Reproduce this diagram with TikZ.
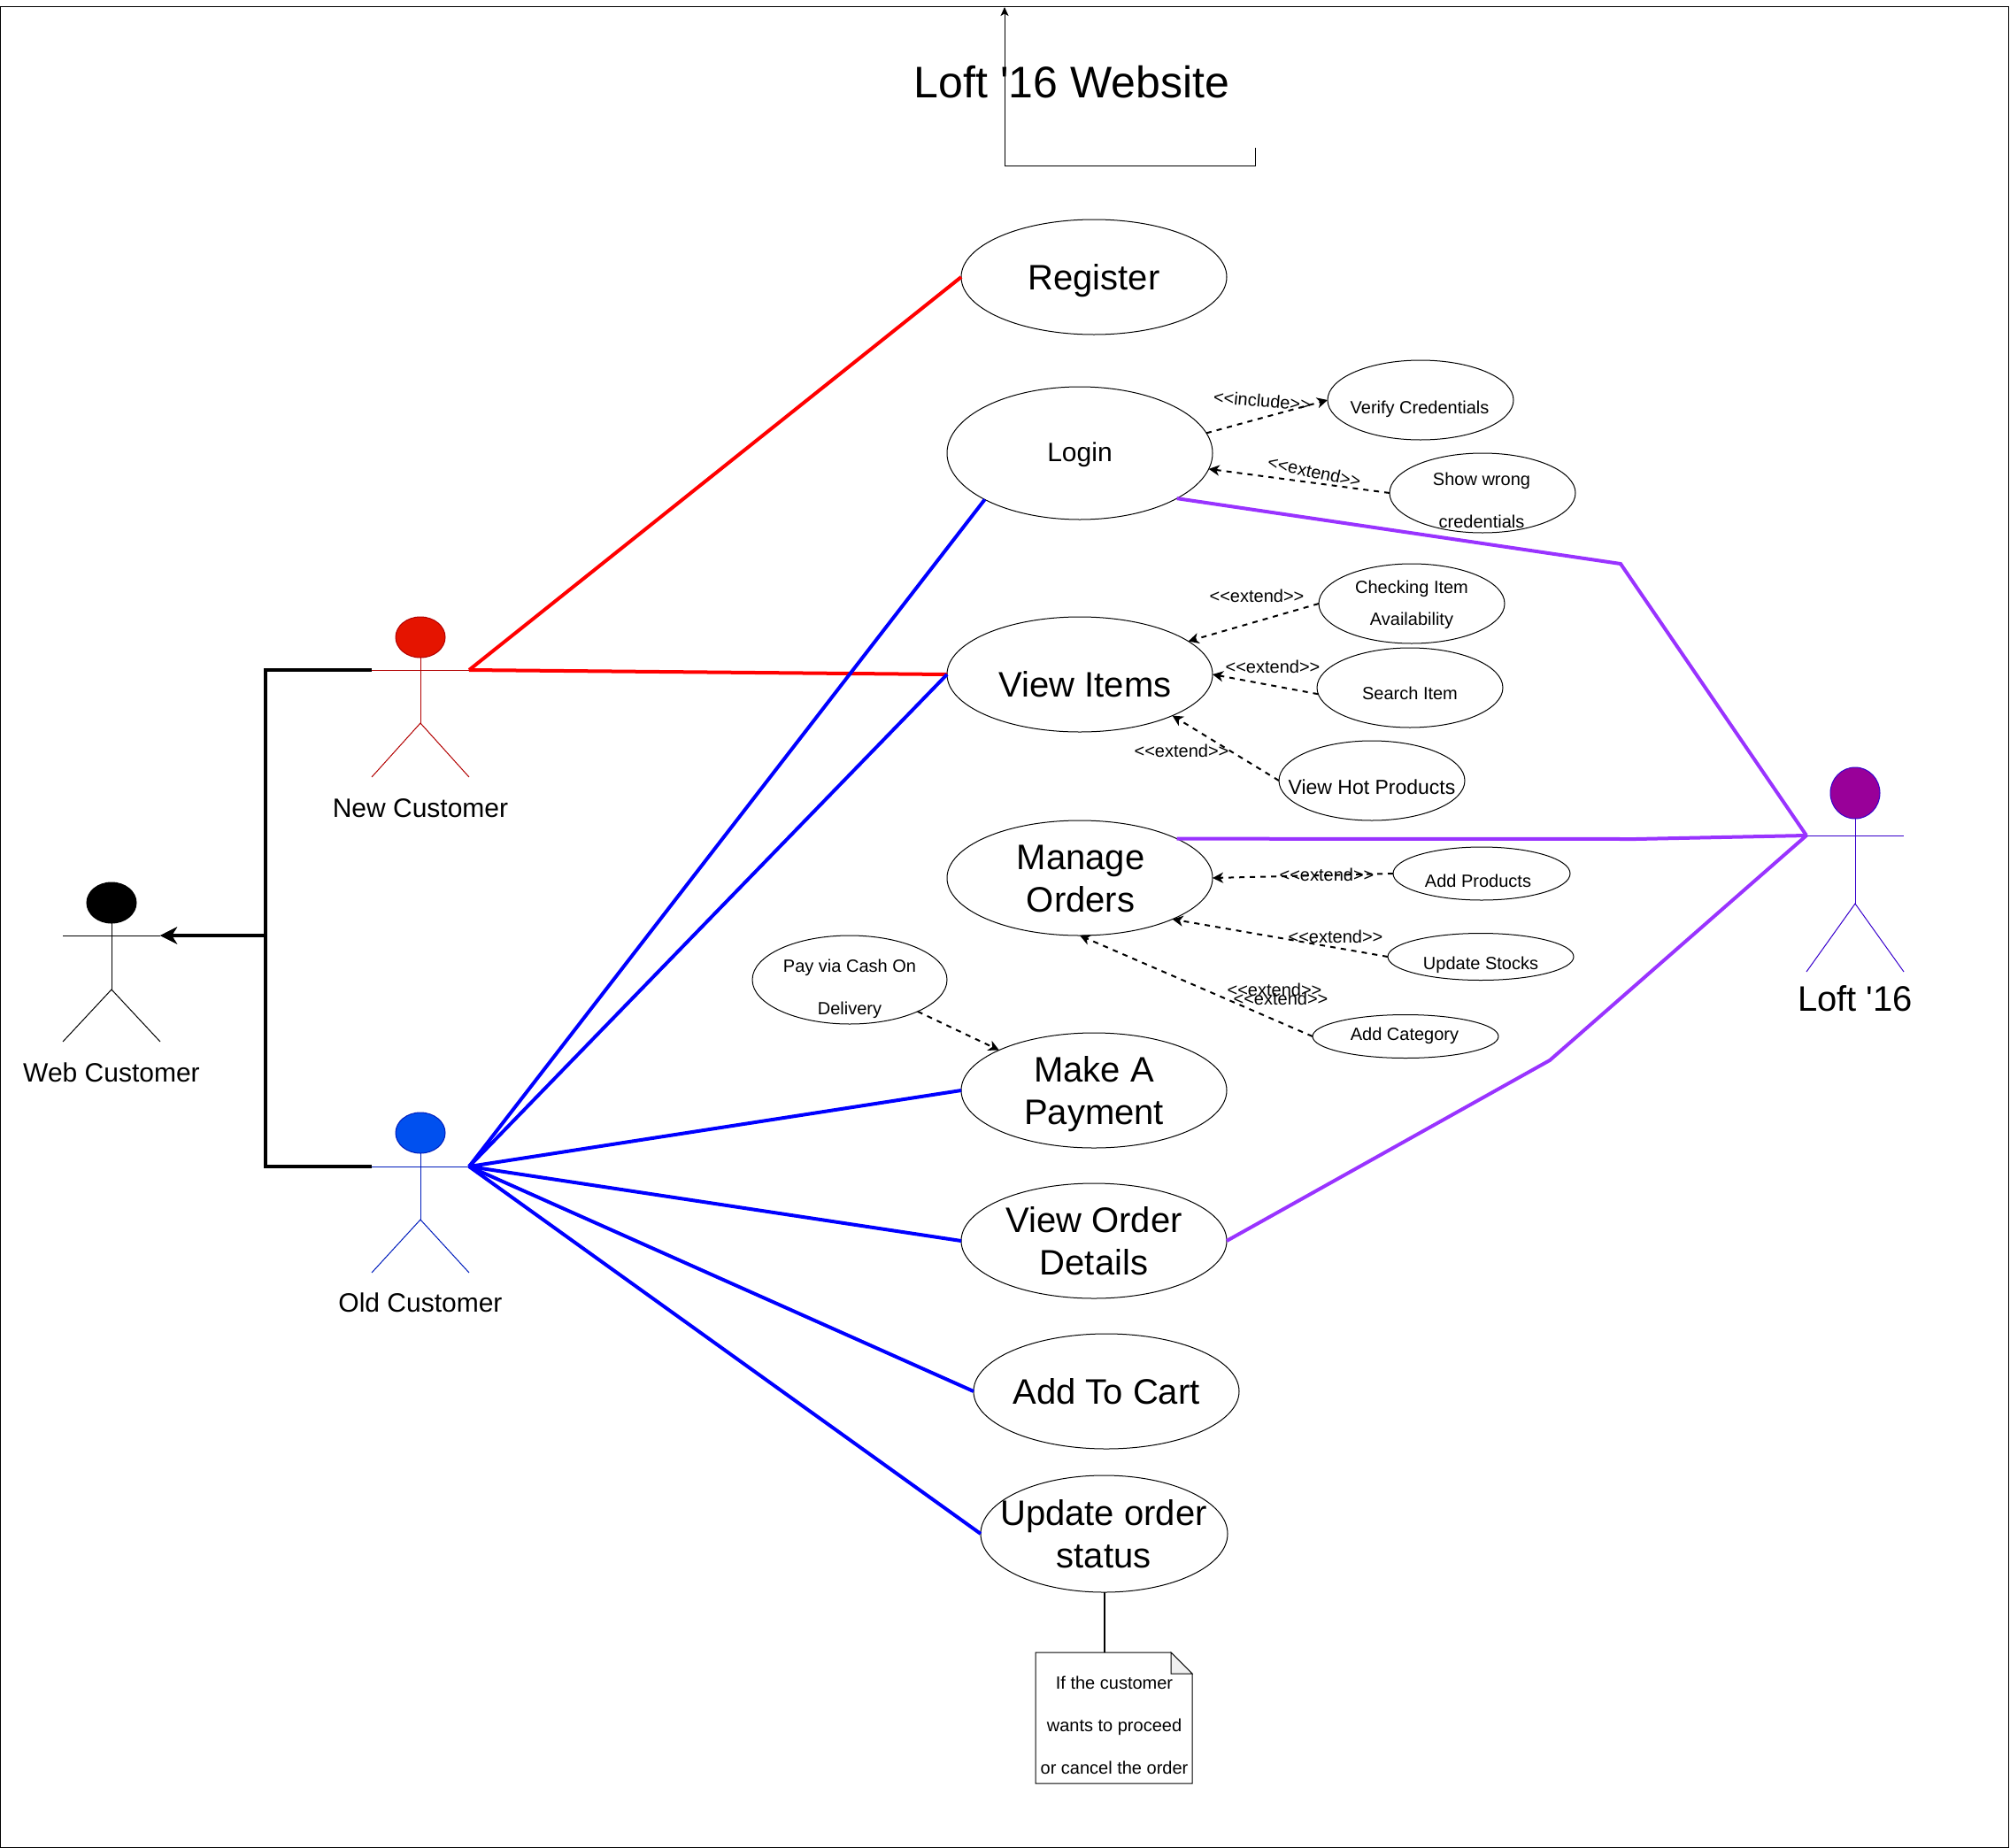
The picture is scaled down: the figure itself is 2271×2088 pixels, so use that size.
\documentclass[tikz,border=0pt]{standalone}
\usepackage{fontspec}
\setmainfont{Liberation Sans}
\usetikzlibrary{arrows.meta,shapes.geometric,calc}
\definecolor{purp}{HTML}{9933FF}
\definecolor{newfill}{HTML}{E51400}
\definecolor{newline}{HTML}{B20000}
\definecolor{oldfill}{HTML}{0050EF}
\definecolor{oldline}{HTML}{001DBC}
\definecolor{loftfill}{HTML}{990099}
\definecolor{loftline}{HTML}{3700CC}
\newcommand\fs[2]{\fontsize{#1}{#2}\selectfont}
\newcommand\stereo[1]{<{}<#1>{}>}
\tikzset{
  ucbox/.style={draw=black,line width=1pt,ellipse,inner sep=0pt,outer sep=0pt,fill=white},
  uctext/.style={anchor=base,align=center,inner sep=0pt,outer sep=0pt,text=black},
  tag/.style={anchor=center,inner sep=0pt,outer sep=0pt,font=\fs{20}{24}},
  dep/.style={-{Stealth[length=12pt,width=12pt,inset=3.5pt]},dash pattern=on 6pt off 6pt,line width=2pt},
  bold/.style={line width=4pt,line join=miter},
  assocR/.style={bold,draw={rgb,255:red,255;green,0;blue,0}},
  assocB/.style={bold,draw={rgb,255:red,0;green,0;blue,255}},
  assocP/.style={bold,draw=purp},
  thin1/.style={line width=1pt}
}
% name, centre, width, height, text position (last baseline), font, text
\newcommand\ucase[7]{%
  \node[ucbox,minimum width=#3pt,minimum height=#4pt] (#1) at (#2) {};
  \node[uctext,font=#6] (#1T) at (#5) {#7};
}
% name, x, headY, headH, armY, crotchY, footY, fill, stroke
\newcommand\actor[9]{%
  \node[ellipse,draw=#9,fill=#8,line width=1pt,inner sep=0pt,outer sep=0pt,minimum width=56pt,minimum height=#4pt] (#1) at (#2,#3) {};
  \coordinate (#1L) at (#2-55,#5);
  \coordinate (#1R) at (#2+55,#5);
  \draw[#9,line width=1pt] (#1.south) -- (#2,#6) coordinate (#1C);
  \draw[#9,line width=1pt] (#1L) -- (#1R);
  \draw[#9,line width=1pt] (#2-55,#7) -- (#1C) -- (#2+55,#7);
}
\begin{document}
\begin{tikzpicture}[x=1pt,y=-1pt]
\useasboundingbox (0,0) rectangle (2271,2088);
\node[draw=black,line width=1pt,inner sep=0pt,outer sep=0pt,minimum width=2269pt,minimum height=2080pt,anchor=north west] (frame) at (0.5,7) {};

% title and the stray connector
\node[uctext,font=\fs{50}{60}] (title) at (1211,110) {Loft \textquotesingle 16 Website};
\coordinate (sA) at (1418,167);
\coordinate (sB) at (1418,187);
\coordinate (sC) at (1135,187);
\coordinate (sD) at (1135,8);
\draw[thin1,-{Stealth[length=10pt,width=9pt,inset=2.5pt]}] (sA) -- (sB) -- (sC) -- (sD);

% actors
\actor{web}{126}{1020}{46}{1057}{1118}{1177}{black}{black}
\actor{new}{475}{720}{46}{757}{817}{878}{newfill}{newline}
\actor{old}{475}{1280}{46}{1318}{1378}{1438}{oldfill}{oldline}
\actor{loft}{2096}{896}{58}{944}{1021}{1098}{loftfill}{loftline}
\node[uctext,font=\fs{30}{36}] (webT) at (126,1222) {Web Customer};
\node[uctext,font=\fs{30}{36}] (newT) at (475,923) {New Customer};
\node[uctext,font=\fs{30}{36}] (oldT) at (475,1482) {Old Customer};
\node[uctext,font=\fs{40}{48}] (loftT) at (2096,1142) {Loft \textquotesingle 16};

% use cases
\ucase{register}{1236,313}{300}{130}{1236,327}{\fs{40}{48}}{Register}
\ucase{login}{1220,512}{300}{150}{1220,521}{\fs{30}{36}}{Login}
\ucase{verify}{1605,452}{210}{90}{1604,467}{\fs{20}{24}}{Verify Credentials}
\ucase{wrong}{1675,557}{210}{90}{1674,596}{\fs{20}{48}}{Show wrong\\credentials}
\ucase{view}{1220,762}{300}{130}{1226,787}{\fs{40}{48}}{View Items}
\ucase{check}{1595,682}{210}{90}{1595,706}{\fs{20}{36}}{Checking Item\\Availability}
\ucase{search}{1593,777}{210}{90}{1593,790}{\fs{20}{24}}{Search Item}
\ucase{hot}{1550,882}{210}{90}{1550,897}{\fs{23}{28}}{View Hot Products}
\ucase{manage}{1220,992}{300}{130}{1221,1030}{\fs{40}{48}}{Manage\\Orders}
\ucase{addprod}{1674,987}{200}{60}{1670,1002}{\fs{20}{24}}{Add Products}
\ucase{stocks}{1673,1081}{210}{53}{1673,1095}{\fs{20}{24}}{Update Stocks}
\ucase{category}{1588,1171}{210}{49}{1587,1175}{\fs{20}{24}}{Add Category}
\ucase{pay}{960,1107}{220}{100}{960,1146}{\fs{20}{48}}{Pay via Cash On\\Delivery}
\ucase{make}{1236,1232}{300}{130}{1236,1270}{\fs{40}{48}}{Make A\\Payment}
\ucase{order}{1236,1402}{300}{130}{1236,1440}{\fs{40}{48}}{View Order\\Details}
\ucase{cart}{1250,1572}{300}{130}{1250,1586}{\fs{40}{48}}{Add To Cart}
\ucase{update}{1247.5,1733}{279}{132}{1247,1771}{\fs{40}{48}}{Update order\\status}

% note
\node[inner sep=0pt,outer sep=0pt,minimum width=177pt,minimum height=148pt] (note) at (1258.5,1941) {};
\draw[line width=1pt,fill=white,line join=miter]
  (note.north west) -- ($(note.north east)+(-24,0)$) -- ($(note.north east)+(0,24)$) -- (note.south east) -- (note.south west) -- cycle;
\draw[line width=1pt,fill=black!6,line join=miter]
  ($(note.north east)+(-24,0)$) -- ($(note.north east)+(-24,24)$) -- ($(note.north east)+(0,24)$) -- cycle;
\node[uctext,font=\fs{20}{48}] (noteT) at (1259,2004) {If the customer\\wants to proceed\\or cancel the order};
\draw[line width=2pt] (update.south) -- (update.south |- note.north);

% associations
\coordinate (jn) at (300,757);
\coordinate (jo) at (300,1318);
\coordinate (jw) at (300,1057);
\draw[bold,-{Stealth[length=19pt,width=19pt,inset=6pt]}] (newL) -- (jn) -- (jw) -- (webR);
\draw[bold,-{Stealth[length=19pt,width=19pt,inset=6pt]}] (oldL) -- (jo) -- (jw) -- (webR);

\draw[assocR] (newR) -- (register.west);
\draw[assocR] (newR) -- (view.west);

\draw[assocB] (oldR) -- (login.206);
\draw[assocB] (oldR) -- (view.west);
\draw[assocB] (oldR) -- (make.west);
\draw[assocB] (oldR) -- (order.west);
\draw[assocB] (oldR) -- (cart.west);
\draw[assocB] (oldR) -- (update.west);

\coordinate (p1) at (1831,637);
\coordinate (p2) at (1848,948);
\coordinate (p3) at (1751,1198);
\draw[assocP] (login.-25.5) -- (p1) -- (loftL);
\draw[assocP] (manage.22.4) -- (p2) -- (loftL);
\draw[assocP] (order.east) -- (p3) -- (loftL);

% dependencies
\draw[dep] (login.9.4) -- (verify.west);
\draw[dep] (wrong.west) -- (login.-7);
\draw[dep] (check.west) -- (view.17);
\draw[dep] (search.184.4) -- (view.east);
\draw[dep] (hot.west) -- (view.-24);
\draw[dep] (addprod.west) -- (manage.east);
\draw[dep] (stocks.west) -- (manage.-24);
\draw[dep] (category.west) -- (manage.south);
\draw[dep] (pay.-25.7) -- (make.157.4);

% stereotype labels
\node[tag,rotate=-5] (t1) at (1426,453) {\stereo{include}};
\node[tag,rotate=-12] (t2) at (1485,533) {\stereo{extend}};
\node[tag] (t3) at (1420,673) {\stereo{extend}};
\node[tag] (t4) at (1438,753) {\stereo{extend}};
\node[tag] (t5) at (1335,848) {\stereo{extend}};
\node[tag] (t6) at (1499,988) {\stereo{extend}};
\node[tag] (t7) at (1509,1058) {\stereo{extend}};
\node[tag] (t8) at (1440,1118) {\stereo{extend}};
\node[tag] (t9) at (1447,1128) {\stereo{extend}};
\end{tikzpicture}
\end{document}
